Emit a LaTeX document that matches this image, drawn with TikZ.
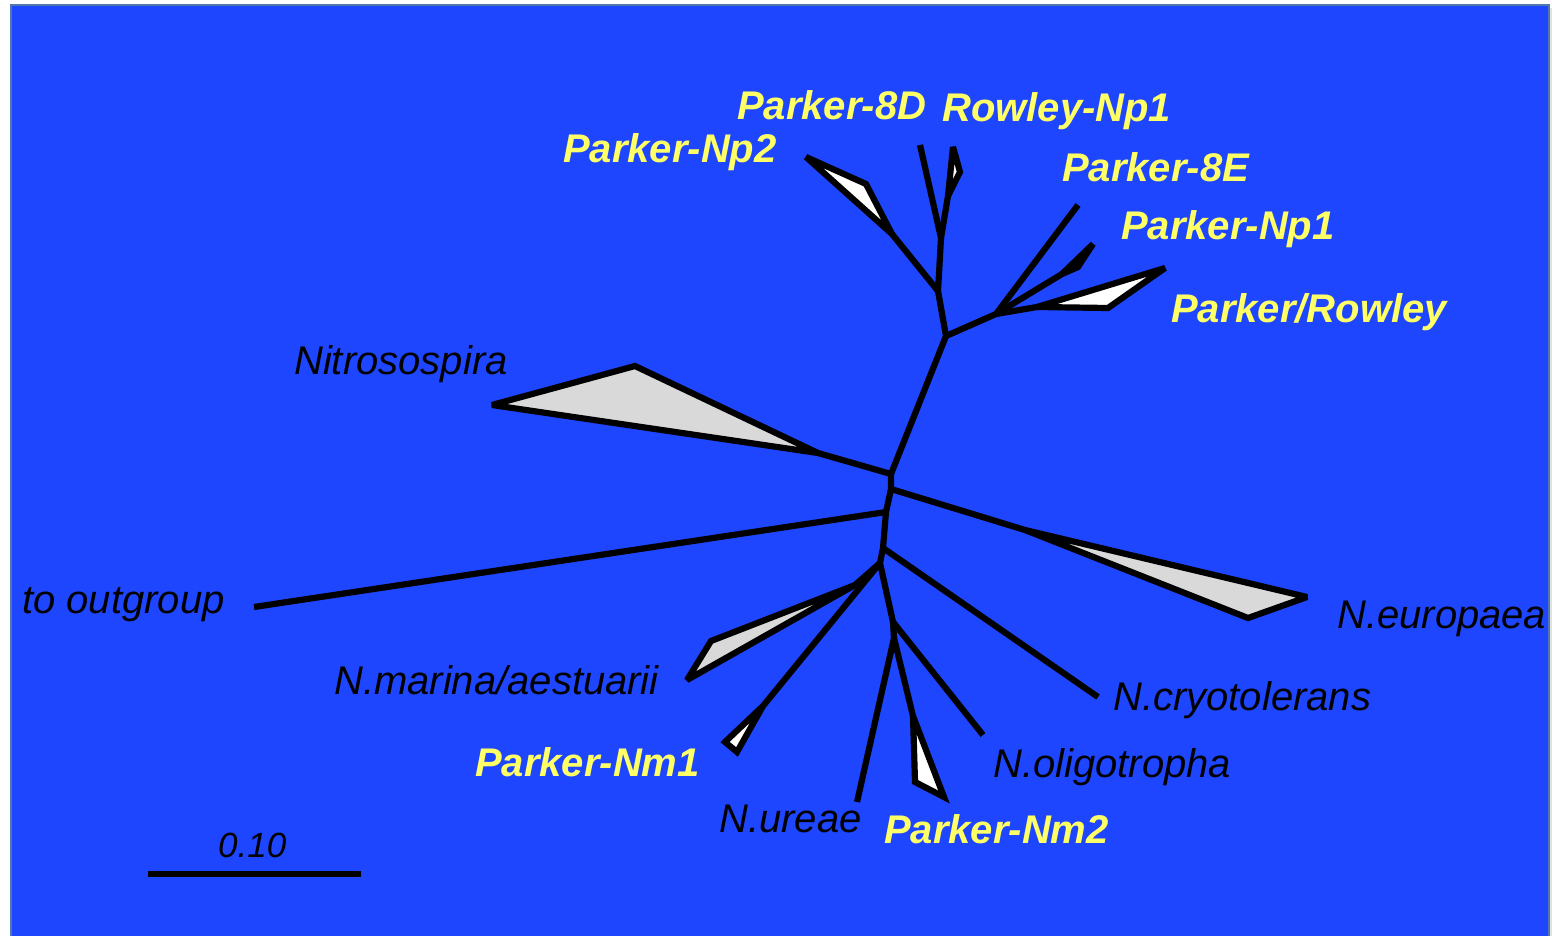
\documentclass[tikz,border=0pt]{standalone}
\usepackage{fontspec}
\setmainfont{Liberation Sans}
\definecolor{bgblue}{RGB}{30,70,255}
\definecolor{edgeblue}{RGB}{80,120,170}
\definecolor{labyellow}{RGB}{255,255,102}
\definecolor{cladegray}{RGB}{217,217,217}
\begin{document}
\begin{tikzpicture}[x=1pt,y=-1pt,
  branch/.style={line width=6.2pt, line join=miter, miter limit=3, line cap=butt},
  grayclade/.style={branch, fill=cladegray},
  whiteclade/.style={branch, fill=white},
  ylab/.style={text=labyellow, font=\fontsize{40}{48}\selectfont\bfseries\itshape, inner sep=0pt, anchor=base west},
  blab/.style={text=black, font=\fontsize{40}{48}\selectfont\itshape, inner sep=0pt, anchor=base west}]

% page and background panel
\useasboundingbox (0,0) rectangle (1552,936);
\fill[white] (0,0) rectangle (1552,936);
\fill[black!12] (1549,8) rectangle (1552,936);
\filldraw[fill=bgblue, draw=edgeblue, line width=1.5pt] (11,5) rectangle (1549,940);

% internal nodes
\coordinate (A)  at (891,474);
\coordinate (A2) at (891,489);
\coordinate (A3) at (886,512);
\coordinate (A4) at (883,548);
\coordinate (F)  at (880,563);
\coordinate (G)  at (893,622);
\coordinate (H)  at (894,638);
\coordinate (B)  at (946,336);
\coordinate (C)  at (938,291);
\coordinate (E)  at (941,238);
\coordinate (D)  at (996,314);

% clade apexes and tips
\coordinate (np2a) at (892,234);  \coordinate (np2b) at (806,157);  \coordinate (np2c) at (866,184);
\coordinate (p8d)  at (920,145);
\coordinate (rnpa) at (948,196);  \coordinate (rnpb) at (953,147);  \coordinate (rnpc) at (960,172);
\coordinate (p8e)  at (1078,205);
\coordinate (pnpa) at (1062,274); \coordinate (pnpb) at (1093,244); \coordinate (pnpc) at (1078,267);
\coordinate (prwa) at (1037,307); \coordinate (prwb) at (1165,268); \coordinate (prwc) at (1108,308);
\coordinate (nspa) at (818,453);  \coordinate (nspb) at (492,405);  \coordinate (nspc) at (635,366);
\coordinate (neua) at (1025,530); \coordinate (neub) at (1307,597); \coordinate (neuc) at (1248,618);
\coordinate (outg) at (254,607);
\coordinate (cryo) at (1098,697);
\coordinate (mara) at (855,585);  \coordinate (marb) at (711,641);  \coordinate (marc) at (687,680);
\coordinate (nm1a) at (763,706);  \coordinate (nm1b) at (725,742);  \coordinate (nm1c) at (737,752);
\coordinate (olig) at (983,735);
\coordinate (ure)  at (857,802);
\coordinate (nm2a) at (913,716);  \coordinate (nm2b) at (915,782);  \coordinate (nm2c) at (944,797);

% backbone
\draw[branch] (A) -- (A2) -- (A3) -- (A4) -- (F) -- (G) -- (H);
\draw[branch] (A) -- (B) -- (C) -- (E);
\draw[branch] (C) -- (np2a);
\draw[branch] (B) -- (D);

% upper clades
\draw[whiteclade] (np2a) -- (np2b) -- (np2c) -- cycle;
\draw[branch] (E) -- (p8d);
\draw[branch] (E) -- (rnpa);
\draw[whiteclade] (rnpa) -- (rnpb) -- (rnpc) -- cycle;
\draw[branch] (D) -- (p8e);
\draw[branch] (D) -- (pnpa);
\draw[whiteclade] (pnpa) -- (pnpb) -- (pnpc) -- cycle;
\draw[branch] (D) -- (prwa);
\draw[whiteclade] (prwa) -- (prwb) -- (prwc) -- cycle;

% Nitrosospira and N. europaea
\draw[branch] (A) -- (nspa);
\draw[grayclade] (nspa) -- (nspb) -- (nspc) -- cycle;
\draw[branch] (A2) -- (neua);
\draw[grayclade] (neua) -- (neub) -- (neuc) -- cycle;

% outgroup and lower clades
\draw[branch] (A3) -- (outg);
\draw[branch] (A4) -- (cryo);
\draw[branch] (F) -- (mara);
\draw[grayclade] (mara) -- (marb) -- (marc) -- cycle;
\draw[branch] (F) -- (nm1a);
\draw[whiteclade] (nm1a) -- (nm1b) -- (nm1c) -- cycle;
\draw[branch] (G) -- (olig);
\draw[branch] (H) -- (ure);
\draw[branch] (H) -- (nm2a);
\draw[whiteclade] (nm2a) -- (nm2b) -- (nm2c) -- cycle;

% labels
\node[ylab] (l8d)  at (737,120)  {Parker-8D};
\node[ylab] (lrnp) at (942,122)  {Rowley-Np1};
\node[ylab] (lnp2) at (563,163)  {Parker-Np2};
\node[ylab] (l8e)  at (1062,182) {Parker-8E};
\node[ylab] (lnp1) at (1121,239) {Parker-Np1};
\node[ylab] (lprw) at (1171,322) {Parker/Rowley};
\node[blab] (lnsp) at (294,374)  {Nitrosospira};
\node[blab] (lout) at (22,613)   {to outgroup};
\node[blab] (leu)  at (1337,628) {N.europaea};
\node[blab] (lmar) at (334,694)  {N.marina/aestuarii};
\node[blab] (lcry) at (1113,710) {N.cryotolerans};
\node[ylab] (lnm1) at (475,776)  {Parker-Nm1};
\node[blab] (lolg) at (993,777)  {N.oligotropha};
\node[blab] (lure) at (719,832)  {N.ureae};
\node[ylab] (lnm2) at (884,843)  {Parker-Nm2};

% scale bar
\coordinate (s1) at (148,874);
\coordinate (s2) at (361,874);
\draw[line width=5.5pt] (s1) -- (s2);
\node[blab, font=\fontsize{35}{42}\selectfont\itshape] (lsc) at (218,857) {0.10};
\end{tikzpicture}
\end{document}
